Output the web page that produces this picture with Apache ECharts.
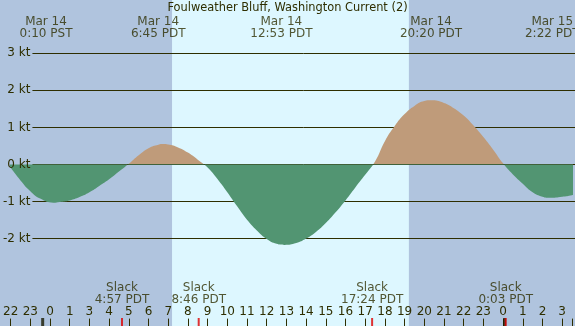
<!DOCTYPE html>
<html>
<head>
<meta charset="utf-8">
<script src="https://cdn.jsdelivr.net/npm/echarts@6/dist/echarts.min.js"></script>
<style>
  html, body { margin: 0; padding: 0; }
  #chart { width: 575px; height: 326px; }
</style>
</head>
<body>
<div id="chart"></div>
<script>
// time axis: hours since Mar 14 00:00 PST (real elapsed time, DST gap at 2:00)
var curveT = [-2.12, -1.5, -1, -0.5, 0.17, 0.5, 1, 1.5, 2, 2.5, 3, 3.5,
  4, 4.5, 5, 5.5, 5.75, 6, 6.5, 7, 7.5, 8, 8.5, 9, 9.5, 10, 10.5, 11, 11.5,
  11.9, 12.5, 13, 13.5, 14, 14.5, 15, 15.5, 16, 16.5, 17, 17.5, 18, 18.5, 19, 19.33,
  20, 20.5, 21, 21.5, 22, 22.5, 23, 23.5, 24, 24.5, 25, 25.37, 26, 26.5, 27];
var curveV = [0, -0.43, -0.72, -0.92, -1.03, -1.01, -0.97, -0.88, -0.75, -0.58, -0.40, -0.19,
  0.02, 0.25, 0.44, 0.535, 0.55, 0.54, 0.46, 0.32, 0.13, -0.08, -0.39, -0.75, -1.13, -1.49, -1.78, -2.01, -2.14,
  -2.17, -2.12, -2.00, -1.82, -1.58, -1.29, -0.97, -0.62, -0.28, 0.08, 0.63, 1.04, 1.36, 1.58, 1.71, 1.73,
  1.66, 1.52, 1.32, 1.05, 0.74, 0.40, 0.03, -0.27, -0.52, -0.75, -0.87, -0.90, -0.87, -0.83, -0.76];

var eventT = [0.167, 5.75, 11.883, 19.333, 25.367];
var eventDate = ['Mar 14', 'Mar 14', 'Mar 14', 'Mar 14', 'Mar 15'];
var eventTime = ['0:10 PST', '6:45 PDT', '12:53 PDT', '20:20 PDT', '2:22 PDT'];

var slackT = [-2.12, 3.95, 7.767, 16.4, 23.05];
var slackTime = ['21:53 PST', '4:57 PDT', '8:46 PDT', '17:24 PDT', '0:03 PDT'];

var midnightT = [0, 23];
// labels for t = -2 .. 26
var hourLabels = ['22', '23', '0', '1', '3', '4', '5', '6', '7', '8', '9', '10', '11', '12', '13',
  '14', '15', '16', '17', '18', '19', '20', '21', '22', '23', '0', '1', '2', '3'];
var sunrise = 6.44, sunset = 18.23;

var ink = '#2e2e00';
var font = 'DejaVu Sans';
var flood = '#bf9b7a', ebb = '#529572';
var night = '#b0c4de', day = '#ddf7ff';

var chart = echarts.init(document.getElementById('chart'));

chart.setOption({
  backgroundColor: night,
  animation: false,
  textStyle: { fontFamily: font },
  title: {
    text: 'Foulweather Bluff, Washington Current (2)',
    left: 'center', top: 2, padding: 1,
    textStyle: { fontSize: 11.4, fontWeight: 'normal', color: ink, fontFamily: font }
  },
  grid: [
    { left: 2.5, right: 0, top: 53.3, height: 185.3 },
    { left: 30, right: 0, top: 53.3, height: 185.3 },
    { left: 2.5, right: 0, top: 0, bottom: 0 }
  ],
  xAxis: [
    {
      gridIndex: 0, type: 'value', min: -2, max: 26.5, interval: 1,
      position: 'bottom', offset: 80,
      axisLine: { show: false, onZero: false },
      splitLine: { show: false },
      axisTick: { length: 8, lineStyle: { color: ink } },
      axisLabel: {
        inside: true, margin: 1, color: ink, fontSize: 12, fontFamily: font,
        hideOverlap: false,
        formatter: function (v) {
          var i = Math.round(v) + 2;
          if (Math.abs(v - Math.round(v)) > 0.01) return '';
          return hourLabels[i] || '';
        }
      }
    },
    { gridIndex: 1, type: 'value', min: 0, max: 1, show: false },
    { gridIndex: 2, type: 'value', min: -2, max: 26.5, show: false }
  ],
  yAxis: [
    { gridIndex: 0, type: 'value', min: -2, max: 3, show: false },
    {
      gridIndex: 1, type: 'value', min: -2, max: 3, interval: 1, position: 'right',
      axisLine: { show: false }, axisTick: { show: false }, axisLabel: { show: false },
      splitLine: { show: true, lineStyle: { color: ink, width: 1 } }
    },
    {
      gridIndex: 1, type: 'value', min: -2, max: 3, interval: 1, position: 'left', z: 5,
      axisLine: { show: false }, axisTick: { show: false }, splitLine: { show: false },
      axisLabel: { color: ink, fontSize: 12, fontFamily: font, margin: 2, formatter: '{value} kt' }
    },
    { gridIndex: 2, type: 'value', min: 0, max: 326, inverse: true, show: false }
  ],
  visualMap: {
    type: 'piecewise', show: false, seriesIndex: 1, dimension: 1,
    pieces: [{ gte: -10, lte: 0, color: ebb }, { gt: 0, lte: 10, color: flood }]
  },
  series: [
    {
      type: 'custom', xAxisIndex: 2, yAxisIndex: 3, z: -5, silent: true,
      data: [[sunrise, sunset]],
      renderItem: function (params, api) {
        var a = api.coord([api.value(0), 0]);
        var b = api.coord([api.value(1), 0]);
        return {
          type: 'rect',
          shape: { x: a[0], y: params.coordSys.y, width: b[0] - a[0], height: params.coordSys.height },
          style: { fill: day }
        };
      }
    },
    {
      type: 'line', xAxisIndex: 0, yAxisIndex: 0, z: 2, silent: true,
      data: curveT.map(function (t, i) { return [t, curveV[i]]; }),
      showSymbol: false, smooth: 0.5, clip: false,
      lineStyle: { width: 0 },
      areaStyle: { opacity: 1 }
    },
    {
      type: 'scatter', xAxisIndex: 2, yAxisIndex: 3, silent: true, z: 3,
      symbol: 'rect', symbolSize: [3, 8],
      itemStyle: { color: '#1a1a00' },
      data: midnightT.map(function (t) { return [t, 322]; })
    },
    {
      type: 'scatter', xAxisIndex: 2, yAxisIndex: 3, silent: true, z: 4,
      symbol: 'rect', symbolSize: [2, 8],
      itemStyle: { color: '#e00000' },
      data: slackT.map(function (t) { return [t, 322]; })
    },
    {
      type: 'scatter', xAxisIndex: 2, yAxisIndex: 3, silent: true, z: 6,
      symbolSize: 0,
      data: eventT.map(function (t) { return [t, 27.5]; }),
      label: {
        show: true, position: 'inside', color: ink, fontSize: 12, lineHeight: 12, fontFamily: font,
        formatter: function (p) { return eventDate[p.dataIndex] + '\n' + eventTime[p.dataIndex]; }
      }
    },
    {
      type: 'scatter', xAxisIndex: 2, yAxisIndex: 3, silent: true, z: 6,
      symbolSize: 0,
      data: slackT.map(function (t) { return [t, 294]; }),
      label: {
        show: true, position: 'inside', color: ink, fontSize: 12, lineHeight: 12, fontFamily: font,
        formatter: function (p) { return 'Slack\n' + slackTime[p.dataIndex]; }
      }
    }
  ]
});
</script>
</body>
</html>
